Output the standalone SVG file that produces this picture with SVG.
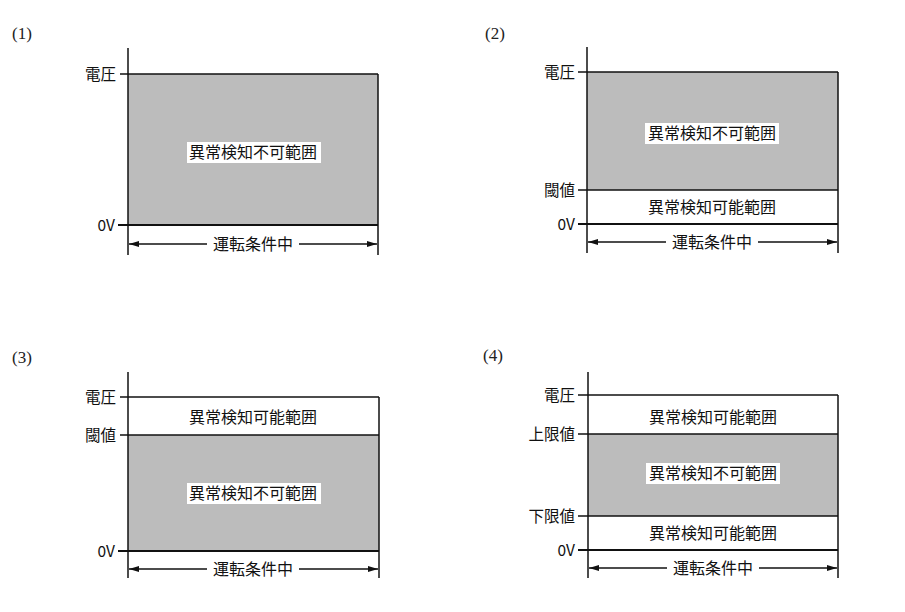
<svg xmlns="http://www.w3.org/2000/svg" width="905" height="612" viewBox="0 0 905 612">
<style>
.ax{stroke:#111;stroke-width:1.5;fill:none}
.zl{stroke:#111;stroke-width:2;fill:none}
.gray{fill:#bcbcbc}
.lbl{font-family:"Noto Sans CJK JP",sans-serif;font-size:15.5px;fill:#111}
.num{font-family:"Liberation Serif","Noto Sans CJK JP",serif;font-size:17px;fill:#222}
.mid{font-family:"Noto Sans CJK JP",sans-serif;font-size:16px;fill:#111;text-anchor:middle}
.bg{fill:#fff}
.arr{stroke:#111;stroke-width:1.5;fill:none;marker-start:url(#ah);marker-end:url(#ah)}
</style>
<defs>
<marker id="ah" viewBox="0 0 10 6" refX="10" refY="3" markerWidth="10" markerHeight="6" markerUnits="userSpaceOnUse" orient="auto-start-reverse">
<path d="M0,0 L10,3 L0,6 Z" fill="#111"/>
</marker>
</defs>
<rect width="905" height="612" fill="#fff"/>

<g id="panel1">
<text class="num" x="12" y="39">(1)</text>
<rect class="gray" x="128" y="74" width="250" height="151"/>
<rect class="bg" x="187" y="142" width="134" height="21"/>
<text class="mid" x="253" y="158">異常検知不可範囲</text>
<line class="ax" x1="128" y1="48" x2="128" y2="255"/>
<line class="ax" x1="120" y1="74" x2="378" y2="74"/>
<line class="ax" x1="378" y1="74" x2="378" y2="255"/>
<line class="zl" x1="118" y1="225" x2="378" y2="225"/>
<text class="lbl" x="116" y="79.5" text-anchor="end">電圧</text>
<text class="lbl" x="115" y="230.5" text-anchor="end">0V</text>
</g>

<g id="panel2">
<text class="num" x="485" y="39">(2)</text>
<rect class="gray" x="587" y="72" width="251" height="118"/>
<rect class="bg" x="645" y="123" width="134" height="21"/>
<text class="mid" x="712" y="139">異常検知不可範囲</text>
<text class="mid" x="712" y="213">異常検知可能範囲</text>
<line class="ax" x1="587" y1="47" x2="587" y2="253"/>
<line class="ax" x1="578" y1="72" x2="838" y2="72"/>
<line class="ax" x1="578" y1="190" x2="838" y2="190"/>
<line class="ax" x1="838" y1="72" x2="838" y2="253"/>
<line class="zl" x1="578" y1="224" x2="838" y2="224"/>
<text class="lbl" x="575" y="77.5" text-anchor="end">電圧</text>
<text class="lbl" x="575" y="195.5" text-anchor="end">閾値</text>
<text class="lbl" x="575" y="229.5" text-anchor="end">0V</text>
</g>

<g id="panel3">
<text class="num" x="12" y="363">(3)</text>
<rect class="gray" x="128" y="435" width="251" height="116"/>
<rect class="bg" x="187" y="483" width="134" height="21"/>
<text class="mid" x="253" y="499">異常検知不可範囲</text>
<text class="mid" x="253" y="423">異常検知可能範囲</text>
<line class="ax" x1="128" y1="372" x2="128" y2="578"/>
<line class="ax" x1="120" y1="397" x2="379" y2="397"/>
<line class="ax" x1="120" y1="435" x2="379" y2="435"/>
<line class="ax" x1="379" y1="397" x2="379" y2="578"/>
<line class="zl" x1="118" y1="551" x2="379" y2="551"/>
<text class="lbl" x="116" y="402.5" text-anchor="end">電圧</text>
<text class="lbl" x="116" y="440.5" text-anchor="end">閾値</text>
<text class="lbl" x="115" y="556.5" text-anchor="end">0V</text>
</g>

<g id="panel4">
<text class="num" x="483" y="361">(4)</text>
<rect class="gray" x="588" y="434" width="250" height="82"/>
<rect class="bg" x="646" y="463" width="134" height="21"/>
<text class="mid" x="713" y="479">異常検知不可範囲</text>
<text class="mid" x="713" y="423">異常検知可能範囲</text>
<text class="mid" x="713" y="539">異常検知可能範囲</text>
<line class="ax" x1="588" y1="372" x2="588" y2="578"/>
<line class="ax" x1="578" y1="395" x2="838" y2="395"/>
<line class="ax" x1="578" y1="434" x2="838" y2="434"/>
<line class="ax" x1="578" y1="516" x2="838" y2="516"/>
<line class="ax" x1="838" y1="395" x2="838" y2="578"/>
<line class="zl" x1="578" y1="550" x2="838" y2="550"/>
<text class="lbl" x="575" y="400.5" text-anchor="end">電圧</text>
<text class="lbl" x="575" y="439.5" text-anchor="end">上限値</text>
<text class="lbl" x="575" y="521.5" text-anchor="end">下限値</text>
<text class="lbl" x="575" y="555.5" text-anchor="end">0V</text>
</g>

<g id="connectors">
<line class="arr" x1="129" y1="244" x2="377" y2="244"/>
<rect class="bg" x="207" y="234" width="92" height="20"/>
<text class="mid" x="253" y="250">運転条件中</text>
<line class="arr" x1="588" y1="242" x2="837" y2="242"/>
<rect class="bg" x="666" y="232" width="92" height="20"/>
<text class="mid" x="712" y="248">運転条件中</text>
<line class="arr" x1="129" y1="569" x2="378" y2="569"/>
<rect class="bg" x="207" y="559" width="92" height="20"/>
<text class="mid" x="253" y="575">運転条件中</text>
<line class="arr" x1="589" y1="568" x2="837" y2="568"/>
<rect class="bg" x="667" y="558" width="92" height="20"/>
<text class="mid" x="713" y="574">運転条件中</text>
</g>
</svg>
